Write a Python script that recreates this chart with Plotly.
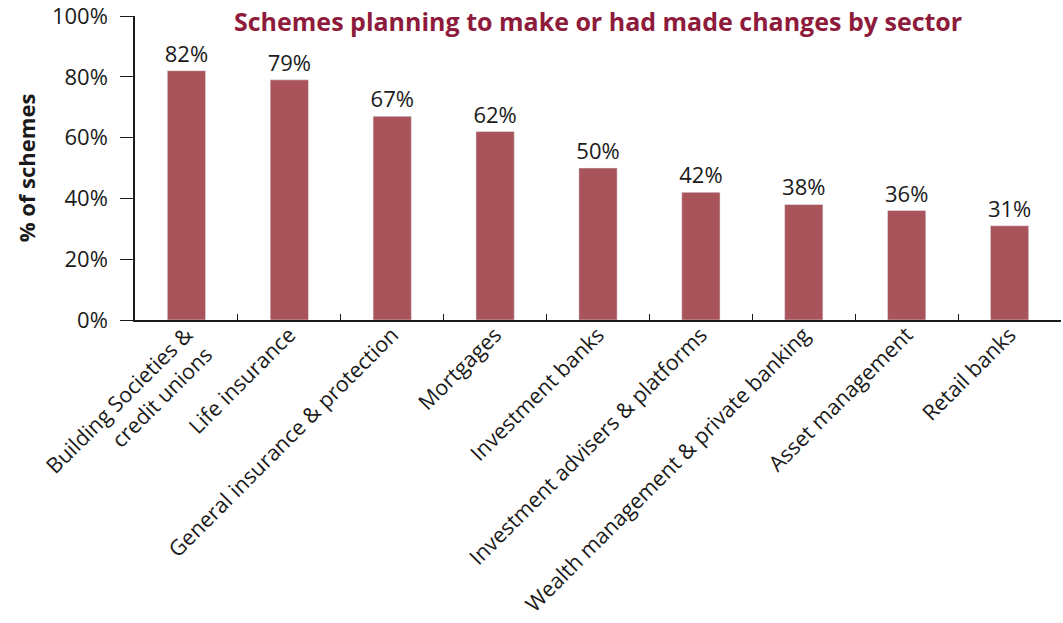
import plotly.graph_objects as go

sectors = [
    "Building Societies &<br>credit unions",
    "Life insurance",
    "General insurance & protection",
    "Mortgages",
    "Investment banks",
    "Investment advisers & platforms",
    "Wealth management & private banking",
    "Asset management",
    "Retail banks",
]
share = [82, 79, 67, 62, 50, 42, 38, 36, 31]
y_ticks = [0, 20, 40, 60, 80, 100]
y_tick_text = [f"{v}%" for v in y_ticks]

FONT = "Open Sans, Noto Sans, sans-serif"
INK = "#1a1a1a"

fig = go.Figure(
    go.Bar(
        x=sectors,
        y=share,
        marker_color="#A9545A",
        text=[f"{v}%" for v in share],
        textposition="outside",
        constraintext="none",
        textfont=dict(size=22, color=INK, family=FONT),
        cliponaxis=False,
    )
)

fig.update_layout(
    width=1063,
    height=623,
    margin=dict(l=135, r=2, t=16, b=303),
    plot_bgcolor="white",
    paper_bgcolor="white",
    bargap=0.628,
    showlegend=False,
    font=dict(family=FONT, size=22, color=INK),
    annotations=[
        dict(
            text="<b>Schemes planning to make or had made changes by sector</b>",
            x=0.5, y=1.0, xref="paper", yref="paper",
            xanchor="center", yanchor="middle", yshift=-5,
            showarrow=False,
            font=dict(size=25, color="#8E1B3C", family=FONT),
        )
    ],
)

fig.update_xaxes(
    automargin=False,
    tickangle=-45,
    showline=True,
    linecolor=INK,
    linewidth=1.5,
    ticks="inside",
    tickson="boundaries",
    ticklen=6,
    tickcolor=INK,
    ticklabelstandoff=-8,
    ticklabeloverflow="allow",
    tickfont=dict(size=21.5, family=FONT),
    showgrid=False,
)

fig.update_yaxes(
    automargin=False,
    range=[0, 100],
    tickvals=y_ticks,
    ticktext=y_tick_text,
    showline=True,
    linecolor=INK,
    linewidth=1.5,
    ticks="outside",
    ticklen=13,
    tickcolor=INK,
    ticklabelstandoff=8,
    ticklabeloverflow="allow",
    tickfont=dict(size=22, family=FONT),
    showgrid=False,
    zeroline=False,
    title=dict(text="<b>% of schemes</b>", font=dict(size=22, family=FONT), standoff=10),
)

fig.write_html("out.html")
